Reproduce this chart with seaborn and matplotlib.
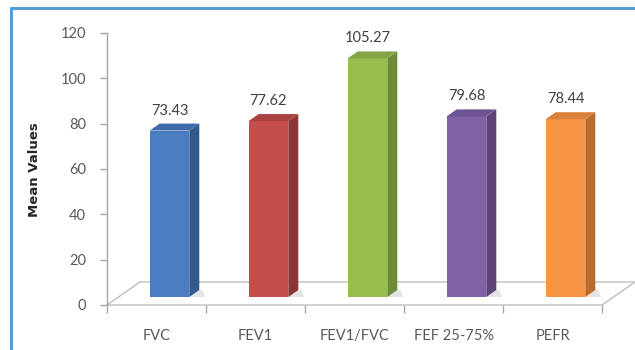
import matplotlib
matplotlib.use("Agg")
import matplotlib.pyplot as plt
import seaborn as sns
import pandas as pd
from matplotlib.patches import Polygon
from matplotlib.lines import Line2D

# ---- data ----
categories = ["FVC", "FEV1", "FEV1/FVC", "FEF 25-75%", "PEFR"]
mean_values = [73.43, 77.62, 105.27, 79.68, 78.44]
value_labels = ["73.43", "77.62", "105.27", "79.68", "78.44"]
y_ticks = [0, 20, 40, 60, 80, 100, 120]
y_label = "Mean Values"

# ---- styles ----
front_colors = ["#4A7EC0", "#C44E4B", "#98BE50", "#8061A6", "#F79445"]
side_colors = ["#34598C", "#8E3433", "#6C8C38", "#5A4479", "#B96B2C"]
top_colors = ["#3F6CA8", "#A94240", "#83A546", "#6D5390", "#D9803A"]

sns.set_theme(style="white")
plt.rcParams["font.family"] = ["Lato", "DejaVu Sans"]

W, H = 635, 350
fig = plt.figure(figsize=(W / 100, H / 100), dpi=100)
L, R, B, T = 107, 602, 305, 33
ax = fig.add_axes([L / W, 1 - B / H, (R - L) / W, (B - T) / H])

df = pd.DataFrame({"cat": categories, "val": mean_values})
sns.barplot(data=df, x="cat", y="val", hue="cat", palette=front_colors,
            legend=False, width=0.4, saturation=1, ax=ax, zorder=3)
ax.set_xlim(-0.5, len(categories) - 0.5)
ax.set_ylim(0, 120)

px_x = len(categories) / (R - L)
px_y = 120 / (B - T)

# floor (3D depth)
fdx, fdy = 33 * px_x, 23 * px_y
x0f, x1f = -0.5, len(categories) - 0.5
floor = Polygon([(x0f, 0), (x1f, 0), (x1f + fdx, fdy), (x0f + fdx, fdy)],
                closed=True, facecolor="white", edgecolor="#BDBDBD",
                linewidth=1.0, clip_on=False, zorder=1)
ax.add_patch(floor)

# bars: shift into mid-depth and add side/top faces
sx, sy = 13 * px_x, 8 * px_y
bdx, bdy = 10 * px_x, 7 * px_y
for i, p in enumerate(ax.patches[:]):
    if p is floor:
        continue
    x0 = p.get_x() + sx
    p.set_x(x0)
    p.set_y(sy)
    p.set_edgecolor("none")
    w = p.get_width()
    h = p.get_height()
    x1 = x0 + w
    y0, y1 = sy, sy + h
    # soft shadow on floor
    ax.add_patch(Polygon([(x0 + 2 * px_x, y0), (x1 + bdx + 6 * px_x, y0),
                          (x1 + bdx + 3 * px_x, y0 + bdy), (x1, y0 + bdy)],
                         closed=True, facecolor="#E4E4E4", edgecolor="none",
                         clip_on=False, zorder=2))
    ax.add_patch(Polygon([(x1, y0), (x1 + bdx, y0 + bdy), (x1 + bdx, y1 + bdy), (x1, y1)],
                         closed=True, facecolor=side_colors[i], edgecolor="none",
                         clip_on=False, zorder=3))
    ax.add_patch(Polygon([(x0, y1), (x1, y1), (x1 + bdx, y1 + bdy), (x0 + bdx, y1 + bdy)],
                         closed=True, facecolor=top_colors[i], edgecolor="none",
                         clip_on=False, zorder=3))
    ax.text(x0 + w / 2, y1 + bdy + 6 * px_y, value_labels[i], ha="center", va="bottom",
            fontsize=10.5, color="#404040", zorder=5, clip_on=False)

# axes styling
for s in ["top", "right", "bottom"]:
    ax.spines[s].set_visible(False)
ax.spines["left"].set_color("#A6A6A6")
ax.spines["left"].set_linewidth(1.0)
ax.set_yticks(y_ticks)
ax.set_yticklabels([str(v) for v in y_ticks])
ax.tick_params(axis="y", left=True, length=5, width=1, color="#A6A6A6",
               labelcolor="#595959", labelsize=10.5, pad=10)
ax.set_xticks(range(len(categories)))
ax.set_xticklabels(categories)
ax.set_xticks([k - 0.5 for k in range(len(categories) + 1)], minor=True)
ax.tick_params(axis="x", which="major", bottom=True, length=0,
               labelcolor="#595959", labelsize=10.5, pad=17)
ax.tick_params(axis="x", which="minor", bottom=True, length=6, width=1, color="#A6A6A6")
ax.set_xlabel("")
ax.set_ylabel("")
ax.patch.set_alpha(0)

fig.text(35 / W, 1 - 170 / H, y_label, rotation=90, ha="center", va="center",
         fontsize=9.5, fontweight="bold", color="#262626", family=["DejaVu Sans"])

# blue frame (top and left)
border = "#5B9BD5"
fig.add_artist(Line2D([11 / W, 11 / W], [0, 1 - 8 / H], color=border, lw=2.2,
                      transform=fig.transFigure))
fig.add_artist(Line2D([11 / W, 1], [1 - 8 / H, 1 - 8 / H], color=border, lw=2.2,
                      transform=fig.transFigure))

fig.savefig("out.png", dpi=100)
